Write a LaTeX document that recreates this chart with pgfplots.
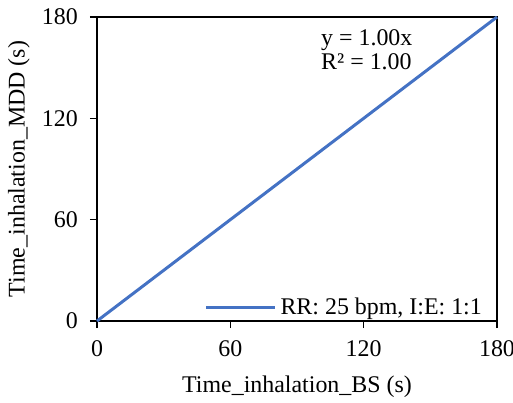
\documentclass[border=0pt]{standalone}
\usepackage{pgfplots}
\pgfplotsset{compat=1.18}
\usepackage{fontspec}
\setmainfont{Liberation Serif}
\definecolor{xlblue}{RGB}{68,114,196}
\begin{document}
\fontsize{24}{28}\selectfont
\begin{tikzpicture}
\begin{axis}[
  scale only axis,
  width=400bp, height=304bp,
  xmin=0, xmax=180, ymin=0, ymax=180,
  xtick={0,60,120,180}, ytick={0,60,120,180},
  xtick pos=bottom, ytick pos=left,
  tick align=outside,
  major tick length=7bp,
  axis line style={line width=1.2bp, black},
  every tick/.style={line width=1.2bp, black},
  tick label style={font=\fontsize{24}{28}\selectfont},
  /pgf/number format/assume math mode=true,
  xticklabel style={yshift=-4bp},
  yticklabel style={xshift=-4bp},
  xlabel={Time\_inhalation\_BS (s)},
  ylabel={Time\_inhalation\_MDD (s)},
  label style={font=\fontsize{24}{28}\selectfont},
  xlabel style={yshift=-3bp},
  ylabel style={yshift=-4bp},
  legend style={draw=none, fill=none, at={(rel axis cs:1,0)}, anchor=south east,
    xshift=-10bp, font=\fontsize{24}{28}\selectfont, inner sep=1bp,
    nodes={inner xsep=4bp}},
  legend cell align=left,
  legend image code/.code={\draw[#1, line width=3bp] (0bp,0bp) -- (69bp,0bp);},
  clip=false,
]
\addplot[color=xlblue, line width=3bp] coordinates {(0,0) (180,180)};
\addlegendentry{RR: 25 bpm, I:E: 1:1}
\node[anchor=west, inner sep=0pt] at (rel axis cs:0.56,0.924) {y = 1.00x};
\node[anchor=west, inner sep=0pt] at (rel axis cs:0.56,0.852) {R² = 1.00};
\coordinate (ll) at (rel axis cs:0,0);
\coordinate (ur) at (rel axis cs:1,1);
\end{axis}
\pgfresetboundingbox
\path ([shift={(-97bp,-82bp)}]ll) rectangle ([shift={(16bp,17bp)}]ur);
\end{tikzpicture}
\end{document}
